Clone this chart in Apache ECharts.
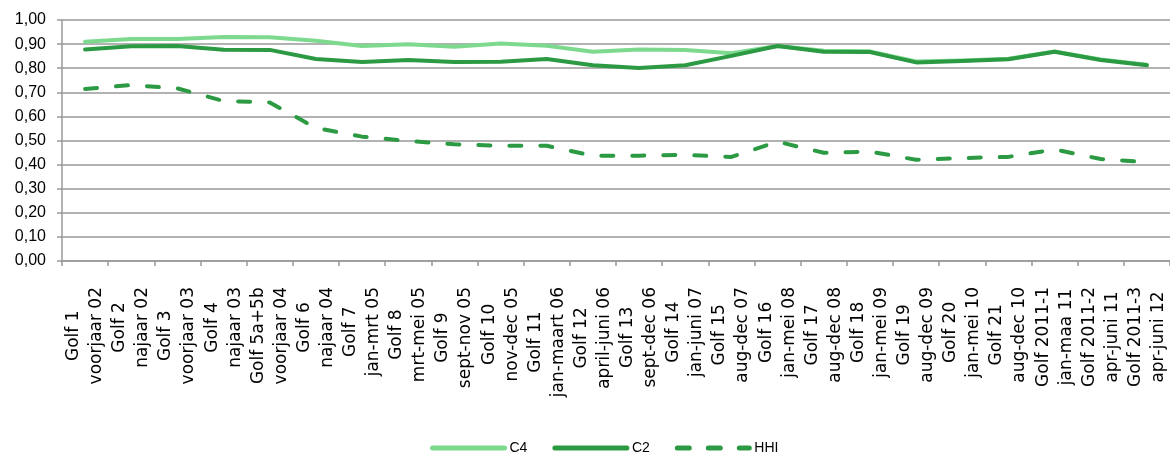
<!DOCTYPE html>
<html>
<head>
<meta charset="utf-8">
<script src="https://cdn.jsdelivr.net/npm/echarts@6/dist/echarts.min.js"></script>
<style>
html,body{margin:0;padding:0;background:#fff;}
#chart{width:1170px;height:458px;}
</style>
</head>
<body>
<div id="chart"></div>
<script>
var golfLabels = ['Golf 1','Golf 2','Golf 3','Golf 4','Golf 5a+5b','Golf 6','Golf 7','Golf 8','Golf 9','Golf 10','Golf 11','Golf 12','Golf 13','Golf 14','Golf 15','Golf 16','Golf 17','Golf 18','Golf 19','Golf 20','Golf 21','Golf 2011-1','Golf 2011-2','Golf 2011-3'];
var periodLabels = ['voorjaar 02','najaar 02','voorjaar 03','najaar 03','voorjaar 04','najaar 04','jan-mrt 05','mrt-mei 05','sept-nov 05','nov-dec 05','jan-maart 06','april-juni 06','sept-dec 06','jan-juni 07','aug-dec 07','jan-mei 08','aug-dec 08','jan-mei 09','aug-dec 09','jan-mei 10','aug-dec 10','jan-maa 11','apr-juni 11','apr-juni 12'];
var c4Values = [0.910,0.921,0.921,0.929,0.928,0.914,0.892,0.899,0.889,0.902,0.893,0.868,0.878,0.876,0.862,0.892,0.872,0.870,0.828,0.832,0.839,0.869,0.836,0.814];
var c2Values = [0.878,0.891,0.892,0.877,0.876,0.838,0.826,0.834,0.826,0.827,0.838,0.812,0.801,0.812,0.851,0.892,0.868,0.867,0.824,0.830,0.837,0.868,0.834,0.812];
var hhiValues = [0.714,0.730,0.716,0.664,0.658,0.552,0.516,0.498,0.484,0.478,0.478,0.437,0.437,0.440,0.432,0.495,0.449,0.454,0.420,0.427,0.432,0.463,0.423,0.410];
var yTicks = [0,0.1,0.2,0.3,0.4,0.5,0.6,0.7,0.8,0.9,1.0];

var categories = golfLabels.map(function(g, i){ return g + '\n' + periodLabels[i]; });
var gridColor = '#999999';

var chart = echarts.init(document.getElementById('chart'), null, {renderer:'canvas'});
chart.setOption({
  animation: false,
  backgroundColor: '#ffffff',
  grid: {left: 62, top: 20, width: 1114, height: 241, containLabel: false},
  legend: {
    left: 425, top: 436,
    itemWidth: 72, itemHeight: 14, itemGap: 25,
    itemStyle: {opacity: 0},
    lineStyle: {width: 5},
    textStyle: {fontFamily: 'Liberation Sans', fontSize: 14, color: '#000'},
    data: ['C4','C2','HHI']
  },
  xAxis: {
    type: 'category',
    data: categories,
    boundaryGap: true,
    axisLine: {lineStyle: {color: gridColor, width: 1.5}},
    axisTick: {show: true, length: 5, alignWithLabel: false, lineStyle: {color: gridColor, width: 1.5}},
    axisLabel: {
      interval: 0, rotate: 90, align: 'right', verticalAlign: 'middle',
      margin: 26, lineHeight: 23,
      fontFamily: 'DejaVu Sans', fontSize: 17, color: '#000',
      formatter: function(v){
        return v.split('\n').map(function(s){ return '{c|' + s + '}'; }).join('\n');
      },
      rich: {
        c: {align: 'center', fontFamily: 'DejaVu Sans', fontSize: 17, lineHeight: 23, color: '#000'}
      }
    }
  },
  yAxis: {
    type: 'value',
    min: yTicks[0], max: yTicks[yTicks.length-1], interval: 0.1,
    axisLine: {show: true, lineStyle: {color: gridColor, width: 1.5}},
    axisTick: {show: true, length: 5, lineStyle: {color: gridColor, width: 1.5}},
    splitLine: {show: true, lineStyle: {color: gridColor, width: 1.5}},
    axisLabel: {
      margin: 16,
      fontFamily: 'Liberation Sans', fontSize: 16, color: '#000',
      formatter: function(v){ return v.toFixed(2).replace('.', ','); }
    }
  },
  series: [
    {name: 'C4', type: 'line', data: c4Values, symbol: 'none', showSymbol: false,
     lineStyle: {color: '#7dd98e', width: 4, cap: 'round', join: 'round'}, itemStyle: {color: '#7dd98e'}},
    {name: 'C2', type: 'line', data: c2Values, symbol: 'none', showSymbol: false,
     lineStyle: {color: '#2b9a43', width: 4, cap: 'round', join: 'round'}, itemStyle: {color: '#2b9a43'}},
    {name: 'HHI', type: 'line', data: hhiValues, symbol: 'none', showSymbol: false,
     lineStyle: {color: '#2b9a43', width: 4, type: [12, 19], cap: 'round', join: 'round'}, itemStyle: {color: '#2b9a43'}}
  ]
});
</script>
</body>
</html>
